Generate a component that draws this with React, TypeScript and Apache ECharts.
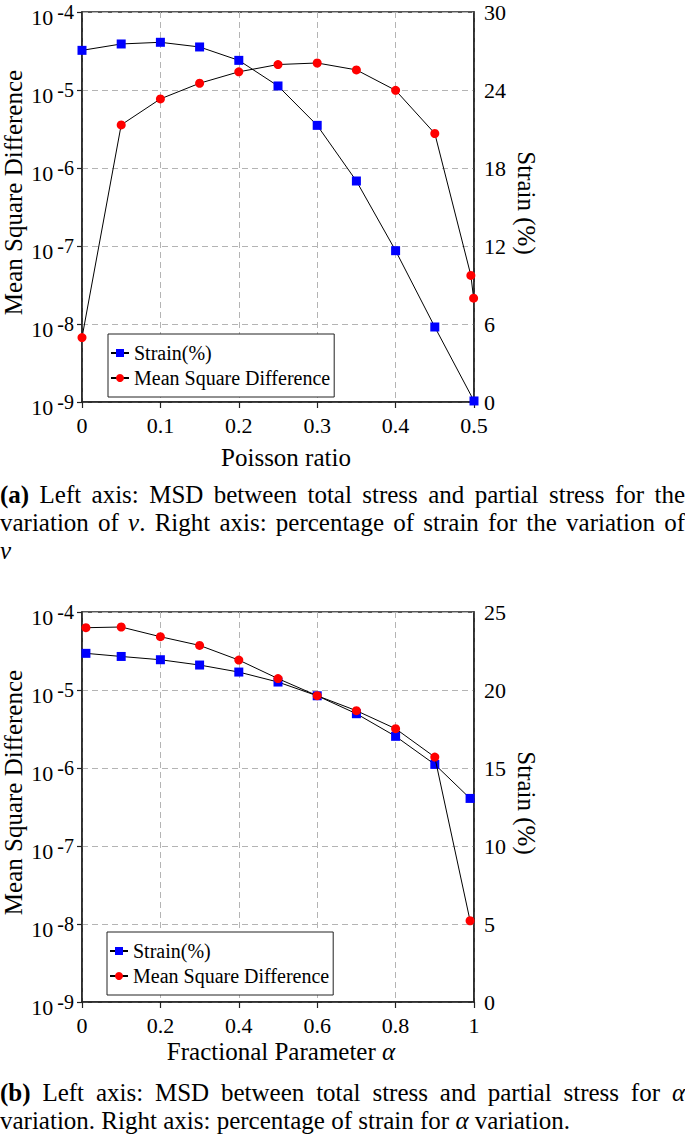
import React, { useEffect, useRef } from 'react';
import * as echarts from 'echarts';

// ---------- Data ----------
// (a) Poisson ratio variation
const poissonStrainX = [0, 0.05, 0.1, 0.15, 0.2, 0.25, 0.3, 0.35, 0.4, 0.45, 0.5];
const poissonStrain = [27.05, 27.54, 27.67, 27.31, 26.28, 24.31, 21.28, 17.0, 11.64, 5.77, 0.08];
const poissonMsdX = [0, 0.05, 0.1, 0.15, 0.2, 0.25, 0.3, 0.35, 0.4, 0.45, 0.496, 0.4995];
const poissonMsd = [6.7e-9, 3.57e-6, 7.69e-6, 1.22e-5, 1.71e-5, 2.12e-5, 2.22e-5, 1.81e-5, 9.9e-6, 2.77e-6, 4.2e-8, 2.14e-8];

// (b) Fractional parameter alpha variation
const alphaX = [0.01, 0.1, 0.2, 0.3, 0.4, 0.5, 0.6, 0.7, 0.8, 0.9, 0.99];
const alphaStrain = [22.35, 22.15, 21.94, 21.6, 21.15, 20.51, 19.63, 18.48, 17.03, 15.23, 13.05];
const alphaMsd = [6.29e-5, 6.42e-5, 4.82e-5, 3.73e-5, 2.42e-5, 1.4e-5, 8.45e-6, 5.43e-6, 3.19e-6, 1.38e-6, 1.1e-8];

const seriesNames = ['Strain(%)', 'Mean Square Difference'];
const leftAxisName = 'Mean Square Difference';
const rightAxisName = 'Strain (%)';
const xNameA = 'Poisson ratio';
const xNameB = 'Fractional Parameter {i|α}';

const FONT = '"Liberation Serif", "Times New Roman", Times, serif';
const AXIS_COLOR = '#222';

const zip = (xs: number[], ys: number[]) => xs.map((x, i) => [x, ys[i]]);

const gridLine = { show: true, lineStyle: { color: '#b4b4b4', type: [6, 4] as any, width: 1 } };

const xAxisCfg = (gridIndex: number, max: number, interval: number, name: string, padLeft: number, nameGap: number) => ({
  type: 'value',
  gridIndex,
  min: 0,
  max,
  interval,
  name,
  nameLocation: 'middle',
  nameGap,
  nameMoveOverlap: false,
  nameTextStyle: {
    fontFamily: FONT,
    fontSize: 25,
    color: '#000',
    padding: [0, 0, 0, padLeft],
    rich: { i: { fontFamily: FONT, fontSize: 25, fontStyle: 'italic', color: '#000' } },
  },
  axisLine: { show: true, lineStyle: { color: AXIS_COLOR, width: 1.5 } },
  axisTick: { show: true, length: 6, lineStyle: { color: AXIS_COLOR, width: 1.2 } },
  axisLabel: { fontFamily: FONT, fontSize: 22, color: '#000', margin: 12 },
  splitLine: gridLine,
});

const logAxisCfg = (gridIndex: number) => ({
  type: 'log',
  gridIndex,
  logBase: 10,
  min: 1e-9,
  max: 1e-4,
  splitNumber: 5,
  position: 'left',
  name: leftAxisName,
  nameLocation: 'middle',
  nameGap: 56,
  nameMoveOverlap: false,
  nameTextStyle: { fontFamily: FONT, fontSize: 25, color: '#000', padding: [0, 0, 0, 29] },
  axisLine: { show: true, lineStyle: { color: AXIS_COLOR, width: 1.5 } },
  axisTick: { show: true, length: 5, lineStyle: { color: AXIS_COLOR, width: 1.2 } },
  axisLabel: {
    margin: 8,
    formatter: (v: number) => `{b|10}{e|${Math.round(Math.log10(v))}}`,
    rich: {
      b: { fontFamily: FONT, fontSize: 22, lineHeight: 22, verticalAlign: 'bottom', color: '#000' },
      e: { fontFamily: FONT, fontSize: 20, lineHeight: 32, verticalAlign: 'top', color: '#000', padding: [6, 0, 0, 4] },
    },
  },
  splitLine: gridLine,
});

const strainAxisCfg = (gridIndex: number, max: number, interval: number) => ({
  type: 'value',
  gridIndex,
  position: 'right',
  min: 0,
  max,
  interval,
  name: rightAxisName,
  nameLocation: 'middle',
  nameRotate: -90,
  nameGap: 40,
  nameMoveOverlap: false,
  nameTextStyle: { fontFamily: FONT, fontSize: 25, color: '#000', padding: [0, 8, 0, 0] },
  axisLine: { show: true, lineStyle: { color: AXIS_COLOR, width: 1.5 } },
  axisTick: { show: false },
  axisLabel: { fontFamily: FONT, fontSize: 22, color: '#000', margin: 10 },
  splitLine: { show: false },
});

const strainSeries = (xAxisIndex: number, yAxisIndex: number, data: number[][]) => ({
  name: seriesNames[0],
  type: 'line',
  xAxisIndex,
  yAxisIndex,
  data,
  symbol: 'rect',
  symbolSize: 9,
  clip: false,
  z: 3,
  itemStyle: { color: '#0000ff', borderWidth: 0 },
  lineStyle: { color: '#000', width: 1 },
});

const msdSeries = (xAxisIndex: number, yAxisIndex: number, data: number[][]) => ({
  name: seriesNames[1],
  type: 'line',
  xAxisIndex,
  yAxisIndex,
  data,
  symbol: 'circle',
  symbolSize: 9,
  clip: false,
  z: 4,
  itemStyle: { color: '#ff0000', borderWidth: 0 },
  lineStyle: { color: '#000', width: 1 },
});

const legendCfg = (left: number, top: number) => ({
  data: seriesNames,
  orient: 'vertical',
  left,
  top,
  padding: [9, 4, 9, 2],
  itemGap: 5,
  itemWidth: 18,
  itemHeight: 10,
  backgroundColor: '#fff',
  borderColor: AXIS_COLOR,
  borderWidth: 1,
  selectedMode: false,
  textStyle: { fontFamily: FONT, fontSize: 20, lineHeight: 20, color: '#000' },
});

const gridCfg = (top: number) => ({
  left: 82,
  top,
  width: 392,
  height: 390,
  containLabel: false,
  outerBoundsMode: 'none',
  show: true,
  borderColor: AXIS_COLOR,
  borderWidth: 1.5,
  backgroundColor: 'transparent',
});

const option = {
  animation: false,
  backgroundColor: '#fff',
  textStyle: { fontFamily: FONT },
  grid: [gridCfg(12), gridCfg(612)],
  xAxis: [
    xAxisCfg(0, 0.5, 0.1, xNameA, 16, 43),
    xAxisCfg(1, 1, 0.2, xNameB, 6, 37),
  ],
  yAxis: [
    logAxisCfg(0),
    strainAxisCfg(0, 30, 6),
    logAxisCfg(1),
    strainAxisCfg(1, 25, 5),
  ],
  legend: [legendCfg(108, 334), legendCfg(107, 932)],
  series: [
    strainSeries(0, 1, zip(poissonStrainX, poissonStrain)),
    msdSeries(0, 0, zip(poissonMsdX, poissonMsd)),
    strainSeries(1, 3, zip(alphaX, alphaStrain)),
    msdSeries(1, 2, zip(alphaX, alphaMsd)),
  ],
};

const capBase: React.CSSProperties = {
  position: 'absolute',
  left: 0,
  width: 685,
  fontFamily: FONT,
  fontSize: 25,
  lineHeight: '28px',
  color: '#000',
  margin: 0,
};
const justified: React.CSSProperties = { ...capBase, textAlign: 'justify', textAlignLast: 'justify' as any };
const leftLine: React.CSSProperties = { ...capBase, textAlign: 'left' };

export default function App() {
  const ref = useRef<HTMLDivElement>(null);
  useEffect(() => {
    const chart = echarts.init(ref.current!, null, { renderer: 'svg' });
    chart.setOption(option as any);
    return () => chart.dispose();
  }, []);
  return (
    <div style={{ position: 'absolute', left: 0, top: 0, width: 685, height: 1137, background: '#fff', overflow: 'hidden' }}>
      <div ref={ref} style={{ position: 'absolute', left: 0, top: 0, width: 685, height: 1137 }} />
      <div style={{ ...justified, top: 481 }}>
        <b>(a)</b> Left axis: MSD between total stress and partial stress for the
      </div>
      <div style={{ ...justified, top: 509 }}>
        variation of <i>ν</i>. Right axis: percentage of strain for the variation of
      </div>
      <div style={{ ...leftLine, top: 537 }}>
        <i>ν</i>
      </div>
      <div style={{ ...justified, top: 1079 }}>
        <b>(b)</b> Left axis: MSD between total stress and partial stress for <i>α</i>
      </div>
      <div style={{ ...leftLine, top: 1107 }}>
        variation. Right axis: percentage of strain for <i>α</i> variation.
      </div>
    </div>
  );
}
